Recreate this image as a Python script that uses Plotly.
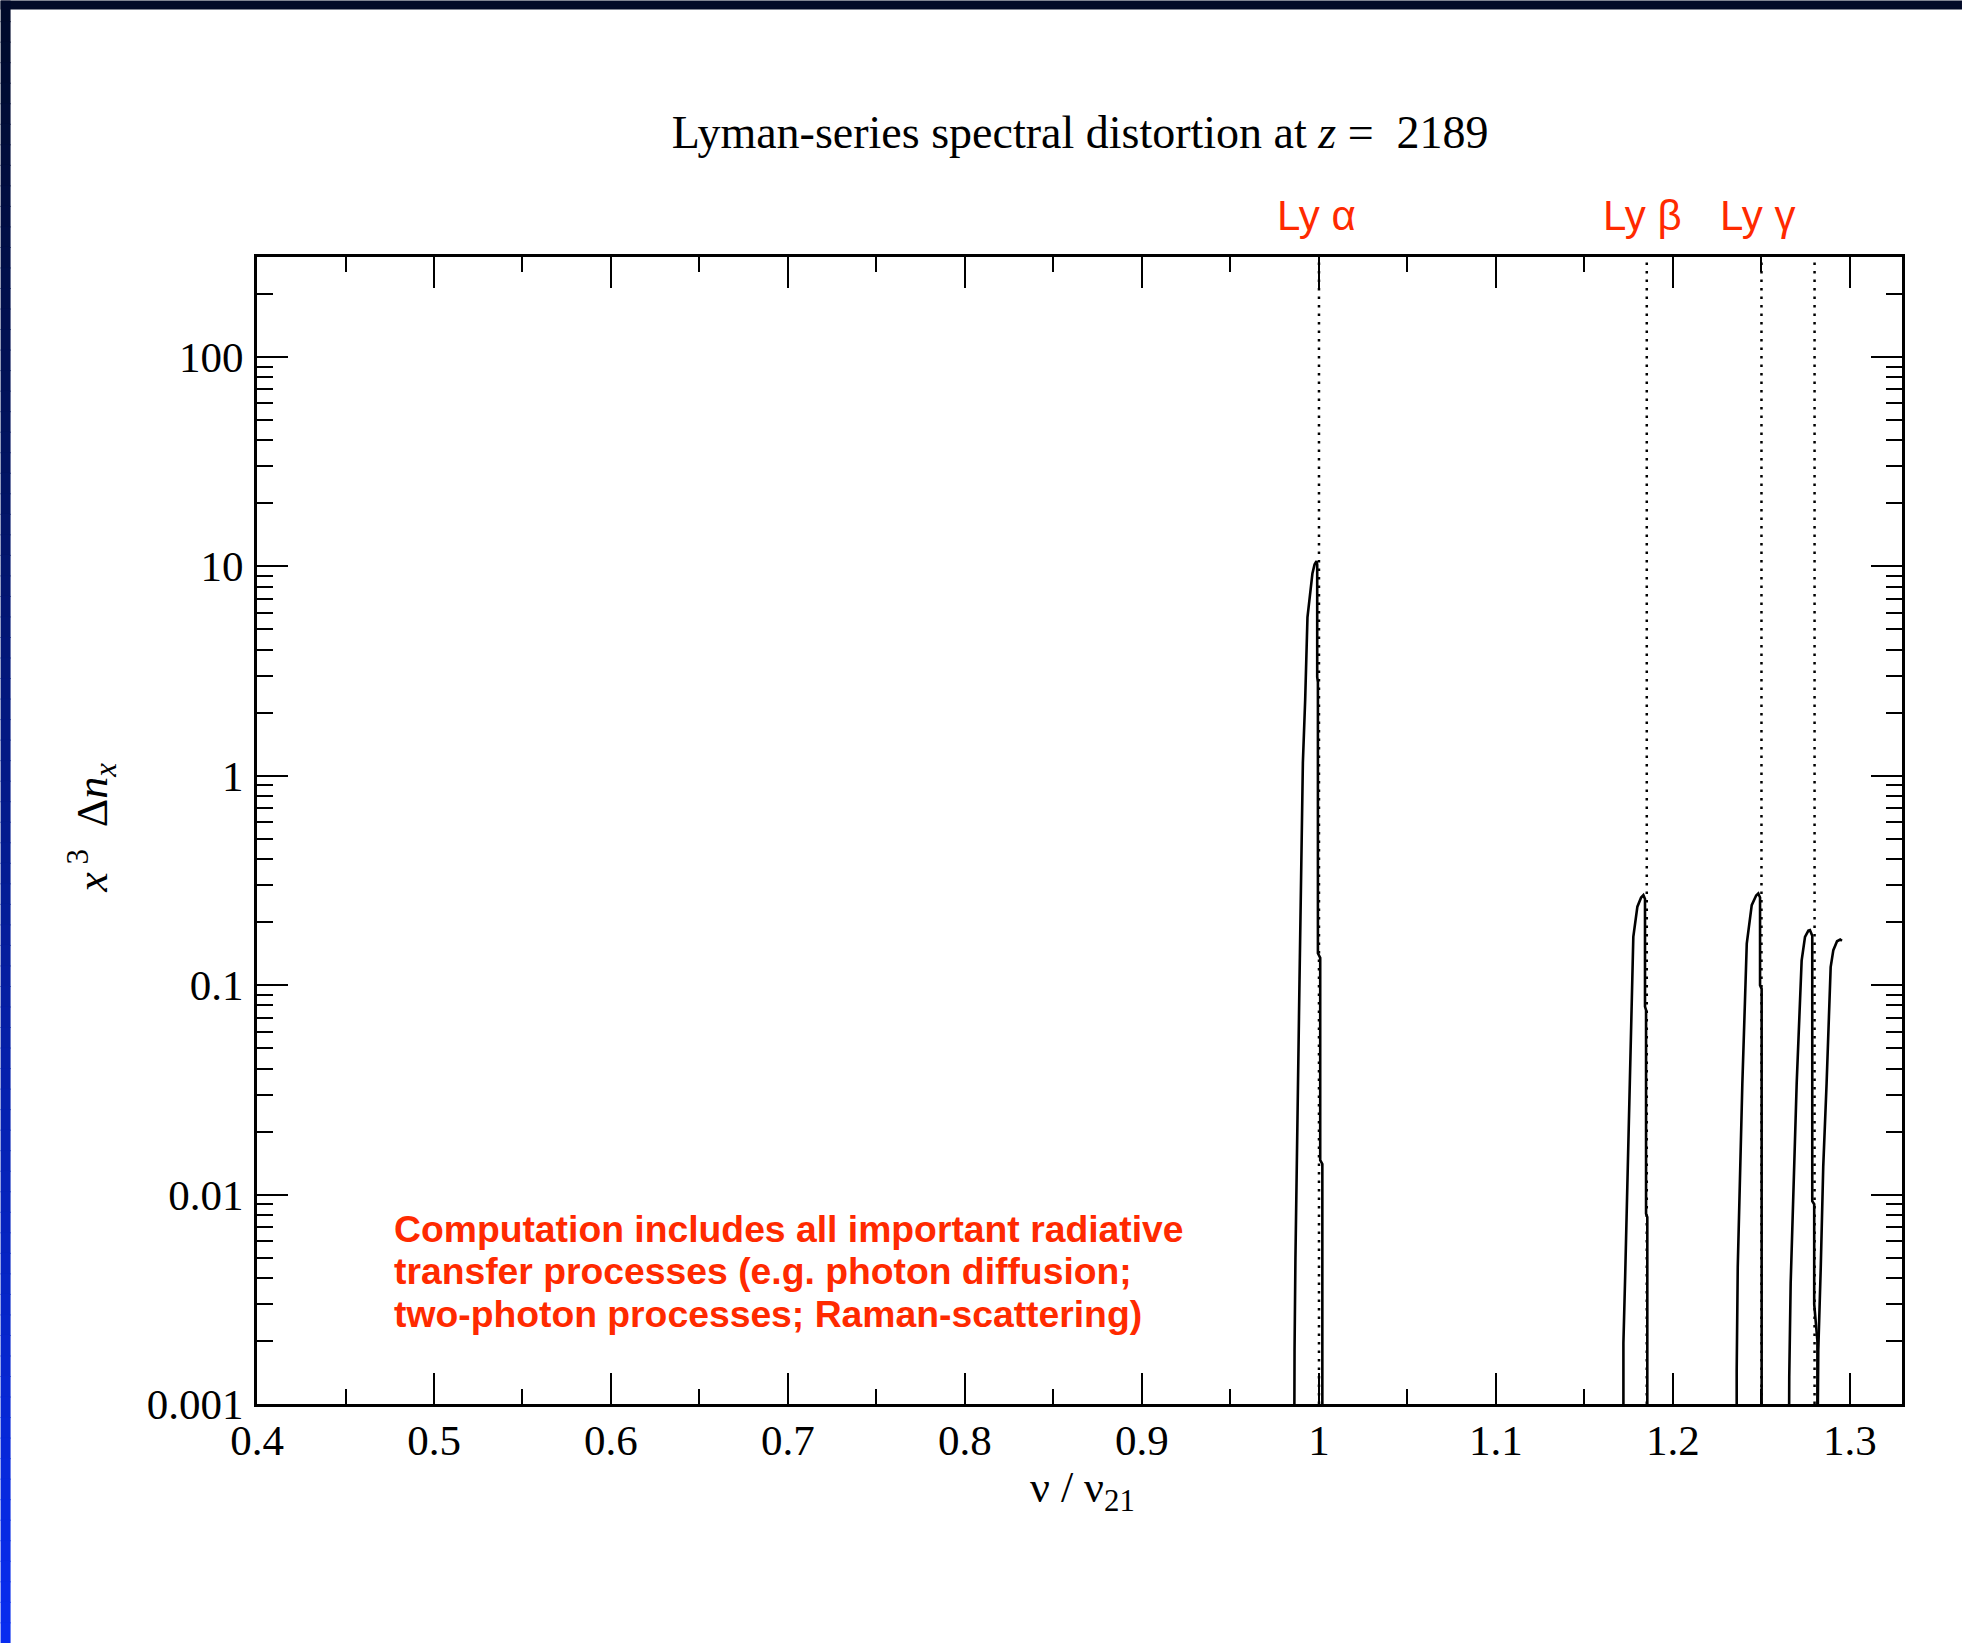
import plotly.graph_objects as go

# ---------------- data ----------------
ly_alpha_x = [0.9860, 0.9860, 0.9862, 0.9867, 0.9875, 0.9884, 0.9890, 0.9898, 0.9903, 0.9909,
              0.9922, 0.9935, 0.9963, 0.9975, 0.9986, 0.9990, 0.9990, 0.9994, 0.9994, 1.0007,
              1.0007, 1.0019, 1.0019]
ly_alpha_y = [0.0005, 0.001, 0.0018, 0.0050, 0.019, 0.047, 0.106, 0.30, 0.61, 1.15,
              2.3, 5.7, 9.25, 10.2, 10.6, 10.2, 2.96, 2.8, 0.142, 0.135,
              0.0146, 0.0140, 0.0005]

ly_beta_x = [1.1720, 1.1720, 1.1730, 1.1741, 1.1750, 1.1762, 1.1769, 1.1776, 1.1799, 1.1820,
             1.1833, 1.1842, 1.1842, 1.1848, 1.1848, 1.1855, 1.1855]
ly_beta_y = [0.0005, 0.00195, 0.0041, 0.0101, 0.0211, 0.059, 0.091, 0.170, 0.237, 0.262,
             0.269, 0.258, 0.079, 0.076, 0.0081, 0.0078, 0.0005]

ly_gamma_x = [1.2360, 1.2360, 1.2366, 1.2379, 1.2392, 1.2407, 1.2417, 1.2445, 1.2470, 1.2482,
              1.2492, 1.2492, 1.2501, 1.2501]
ly_gamma_y = [0.0005, 0.00145, 0.0045, 0.0136, 0.034, 0.085, 0.158, 0.241, 0.268, 0.274,
              0.262, 0.100, 0.096, 0.0005]

ly_delta_x = [1.2655, 1.2657, 1.2665, 1.2680, 1.2699, 1.2718, 1.2727, 1.2746, 1.2765, 1.2774,
              1.2787, 1.2787, 1.2798, 1.2798, 1.2816, 1.2816]
ly_delta_y = [0.0005, 0.00135, 0.00377, 0.0113, 0.034, 0.085, 0.131, 0.170, 0.182, 0.183,
              0.172, 0.0093, 0.0090, 0.0030, 0.0020, 0.0005]

ly_eps_x = [1.2816, 1.2821, 1.2835, 1.2849, 1.2868, 1.2883, 1.2891, 1.2906, 1.2927, 1.2945, 1.2955]
ly_eps_y = [0.0005, 0.0018, 0.0045, 0.0136, 0.034, 0.085, 0.122, 0.147, 0.162, 0.165, 0.163]

line_centres = [1.0, 1.1852, 1.25, 1.28]          # dotted resonance markers
line_labels = ["Ly α", "Ly β", "Ly γ"]
line_label_x = [0.9986, 1.1830, 1.2475]

x_tickvals = [0.4, 0.5, 0.6, 0.7, 0.8, 0.9, 1.0, 1.1, 1.2, 1.3]
x_ticktext = ["0.4", "0.5", "0.6", "0.7", "0.8", "0.9", "1", "1.1", "1.2", "1.3"]
x_minorvals = [0.45, 0.55, 0.65, 0.75, 0.85, 0.95, 1.05, 1.15, 1.25]
y_tickvals = [0.001, 0.01, 0.1, 1, 10, 100]
y_ticktext = ["0.001", "0.01", "0.1", "1", "10", "100"]

note_lines = ["Computation includes all important radiative",
              "transfer processes (e.g. photon diffusion;",
              "two-photon processes; Raman-scattering)"]

# ---------------- geometry helpers (pixels -> paper) ----------------
W, H = 1962, 1643
PL, PR, PT, PB = 256.5, 1902.0, 256.5, 1404.0


def px(xp):
    return (xp - PL) / (PR - PL)


def py(yp):
    return (PB - yp) / (PB - PT)


fig = go.Figure()

# dotted resonance lines
for xc in line_centres:
    fig.add_trace(go.Scatter(x=[xc, xc], y=[0.001, 300], mode="lines",
                             line=dict(color="black", width=2.5, dash="2.5px,6px"),
                             hoverinfo="skip", showlegend=False))

# spectrum
sx, sy = [], []
for xs, ys in [(ly_alpha_x, ly_alpha_y), (ly_beta_x, ly_beta_y), (ly_gamma_x, ly_gamma_y),
               (ly_delta_x, ly_delta_y), (ly_eps_x, ly_eps_y)]:
    sx += xs + [None]
    sy += ys + [None]
fig.add_trace(go.Scatter(x=sx, y=sy, mode="lines", line=dict(color="black", width=2.6),
                         connectgaps=False, showlegend=False))

serif = "Liberation Serif, Times New Roman, serif"
sans = "Liberation Sans, Arial, sans-serif"
red = "#ff2a00"

axis_common = dict(showline=True, linecolor="black", linewidth=3, mirror="allticks",
                   ticks="inside", tickcolor="black", tickwidth=2, ticklen=31,
                   showgrid=False, zeroline=False,
                   tickfont=dict(family=serif, size=43, color="black"))

fig.update_xaxes(range=[0.4, 1.3294], tickmode="array", tickvals=x_tickvals, ticktext=x_ticktext,
                 minor=dict(tickmode="array", tickvals=x_minorvals, ticks="inside", ticklen=15,
                            tickwidth=2, tickcolor="black", showgrid=False),
                 ticklabelstandoff=-4, **axis_common)
fig.update_yaxes(type="log", range=[-3, 2.4771], tickmode="array", tickvals=y_tickvals,
                 ticktext=y_ticktext,
                 minor=dict(dtick="D1", ticks="inside", ticklen=16, tickwidth=2,
                            tickcolor="black", showgrid=False),
                 ticklabelstandoff=2, **axis_common)

annotations = []
for lab, lx in zip(line_labels, line_label_x):
    annotations.append(dict(x=lx, xref="x", y=py(215), yref="paper", text=lab, showarrow=False,
                            xanchor="center", yanchor="middle",
                            font=dict(family=sans, size=42, color=red)))
for i, t in enumerate(note_lines):
    annotations.append(dict(x=px(392), xref="paper", y=py(1228.8 + 42.5 * i), yref="paper",
                            text=t, showarrow=False, xanchor="left", yanchor="middle",
                            font=dict(family=sans, size=37.3, color=red, weight="bold")))
annotations.append(dict(x=px(1082), xref="paper", y=py(1491), yref="paper",
                        text="ν / ν<sub>21</sub>", showarrow=False, xanchor="center",
                        yanchor="middle", font=dict(family=serif, size=44, color="black")))
annotations.append(dict(x=px(92), xref="paper", y=py(828), yref="paper",
                        text="<i>x</i><sup> 3</sup>  Δ<i>n</i><sub><i>x</i></sub>", showarrow=False,
                        textangle=-90, xanchor="center", yanchor="middle",
                        font=dict(family=serif, size=44, color="black")))

# slide frame: dark top band and blue gradient left band
shapes = [dict(type="rect", xref="paper", yref="paper", x0=px(0), x1=px(W), y0=py(9), y1=py(0),
               fillcolor="#020a28", line=dict(width=0), layer="above")]
N = 80
c0 = (0, 10, 42)
c1 = (8, 44, 240)
for i in range(N):
    f = i / (N - 1)
    col = "rgb(%d,%d,%d)" % tuple(round(a + (b - a) * f) for a, b in zip(c0, c1))
    y0p = H * i / N
    y1p = H * (i + 1) / N + 1
    shapes.append(dict(type="rect", xref="paper", yref="paper", x0=px(0), x1=px(10),
                       y0=py(y1p), y1=py(y0p), fillcolor=col, line=dict(width=0), layer="above"))

fig.update_layout(
    width=W, height=H,
    margin=dict(l=PL, r=W - PR, t=PT, b=H - PB, autoexpand=False),
    paper_bgcolor="white", plot_bgcolor="white",
    title=dict(text="Lyman-series spectral distortion at <i>z</i> =  2189",
               x=px(1080), xref="paper", xanchor="center",
               y=1 - 132 / H, yref="container", yanchor="middle",
               font=dict(family=serif, size=46, color="black")),
    annotations=annotations, shapes=shapes, showlegend=False,
)

fig.write_html("out.html")
